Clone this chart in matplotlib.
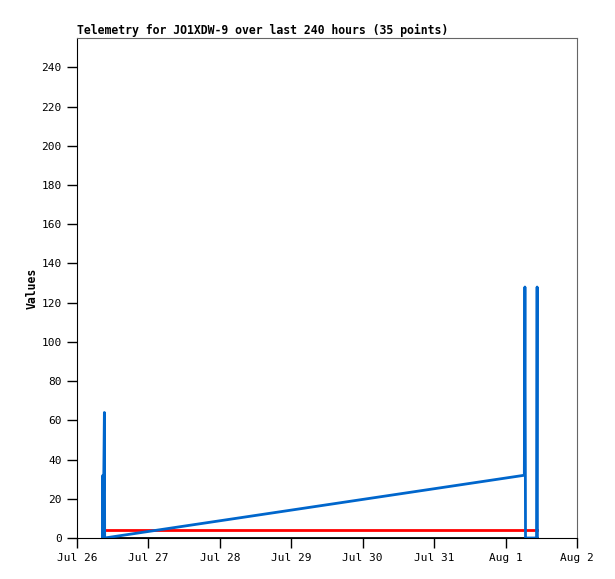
import matplotlib
matplotlib.use("Agg")
import matplotlib.pyplot as plt

# hours since Jul 26 00:00
blue_t = [8.6, 8.7, 8.8, 9.2, 9.3, 150.3, 150.5, 150.7, 154.4, 154.6, 154.7]
blue_v = [0, 32, 0, 64, 0, 32, 128, 0, 0, 128, 0]

red_t = [9.5, 154.4]
red_v = [4, 4]

black_t = [9.0, 154.7]
black_v = [0, 0]

xtick_labels = ["Jul 26", "Jul 27", "Jul 28", "Jul 29", "Jul 30", "Jul 31", "Aug 1", "Aug 2"]
ytick_vals = [0, 20, 40, 60, 80, 100, 120, 140, 160, 180, 200, 220, 240]

plt.rcParams['font.family'] = ['DejaVu Sans Mono']

fig = plt.figure(figsize=(6.15, 5.79), dpi=100)
ax = fig.add_axes([77/615, 1 - 538/579, 500/615, 500/579])

ax.plot(black_t, black_v, color="black", lw=2)
ax.plot(red_t, red_v, color="#ff0000", lw=2)
ax.plot(blue_t, blue_v, color="#0066cc", lw=2)

ax.set_xlim(0, 168)
ax.set_ylim(0, 255)
ax.set_xticks([24 * i for i in range(len(xtick_labels))])
ax.set_xticklabels(xtick_labels)
ax.set_yticks(ytick_vals)
ax.tick_params(direction="out", length=7, width=1, labelsize=8, pad=4)

for s in ["top", "right"]:
    ax.spines[s].set_color("#666666")
for s in ["left", "bottom"]:
    ax.spines[s].set_color("black")

ax.set_ylabel("Values", fontsize=8.3, fontweight="bold", labelpad=2)
ax.set_title("Telemetry for JO1XDW-9 over last 240 hours (35 points)",
             fontsize=8.3, fontweight="bold", loc="left", pad=3)

fig.savefig("out.png", dpi=100)
